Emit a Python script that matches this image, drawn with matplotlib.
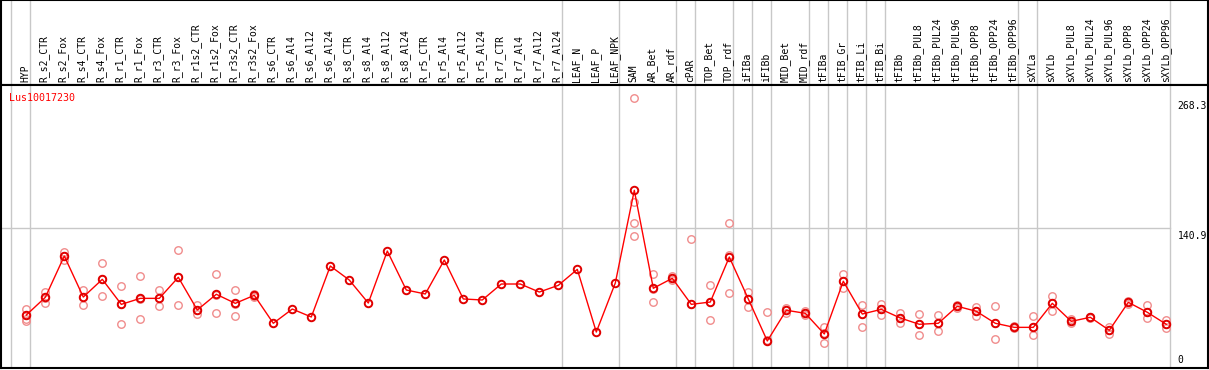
import matplotlib
matplotlib.use("Agg")
import matplotlib.pyplot as plt

# column labels, left to right
samples = ["HYP", "R_s2_CTR", "R_s2_Fox", "R_s4_CTR", "R_s4_Fox", "R_r1_CTR", "R_r1_Fox",
           "R_r3_CTR", "R_r3_Fox", "R_r1s2_CTR", "R_r1s2_Fox", "R_r3s2_CTR", "R_r3s2_Fox",
           "R_s6_CTR", "R_s6_Al4", "R_s6_Al12", "R_s6_Al24", "R_s8_CTR", "R_s8_Al4",
           "R_s8_Al12", "R_s8_Al24", "R_r5_CTR", "R_r5_Al4", "R_r5_Al12", "R_r5_Al24",
           "R_r7_CTR", "R_r7_Al4", "R_r7_Al12", "R_r7_Al24", "LEAF_N", "LEAF_P", "LEAF_NPK",
           "SAM", "AR_Bet", "AR_rdf", "cPAR", "TOP_Bet", "TOP_rdf", "iFIBa", "iFIBb",
           "MID_Bet", "MID_rdf", "tFIBa", "tFIB_Gr", "tFIB_Li", "tFIB_Bi", "tFIBb",
           "tFIBb_PUL8", "tFIBb_PUL24", "tFIBb_PUL96", "tFIBb_OPP8", "tFIBb_OPP24",
           "tFIBb_OPP96", "sXYLa", "sXYLb", "sXYLb_PUL8", "sXYLb_PUL24", "sXYLb_PUL96",
           "sXYLb_OPP8", "sXYLb_OPP24", "sXYLb_OPP96"]

# mean expression per sample
means = [55, 72.4, 113, 72.7, 90.1, 65.5, 71.4, 71.4, 92.1, 60, 75.4, 66.5, 74.4,
         46.9, 60.9, 53.1, 103.2, 89.4, 66.8, 117.9, 79.6, 75.7, 109.1, 70.8, 69.8,
         85.5, 85.5, 77.6, 84.2, 99.9, 38.3, 86.5,
         177.6, 81.3, 91.1, 65.5, 67.8, 112, 70.8, 29.5, 59.7, 56.7, 36.4, 88.2, 56.0,
         60.6, 52.1,
         45.9, 46.9, 63.6, 58.7, 46.9, 42.9, 42.9, 66.5, 48.8, 52.8, 40, 67.5, 57.7, 45.9]

# single replicates per sample
replicates = [
    [61, 55, 51, 49], [78, 72, 67], [117, 113, 109], [80, 73, 65], [106, 90, 74],
    [84, 66, 46], [93, 71, 51], [80, 72, 64], [119, 92, 65], [65, 60, 56],
    [95, 75, 57], [80, 66, 54], [76, 74, 73],
    [], [], [], [], [], [], [], [], [], [], [], [], [], [], [], [], [], [], [],
    [268.3, 166, 145, 133], [95, 81, 68], [93, 91, 89], [130, 66, 0], [85, 68, 50],
    [145, 114, 77], [78, 71, 63], [58, 30, 0], [62, 60, 57], [59, 57, 55],
    [43, 37, 28], [95, 88, 82], [65, 56, 43], [66, 61, 55], [57, 52, 47],
    [56, 46, 35], [55, 47, 39], [65, 64, 62], [63, 59, 54], [64, 47, 31],
    [44, 43, 42], [54, 43, 35], [74, 67, 59], [51, 49, 47], [53.5, 53, 52],
    [43.5, 40, 36], [66, 67.5, 69], [65, 58, 52], [50, 46, 42],
]

# last column index of each group (gray separators)
group_ends = [-1, 0, 28, 31, 34, 35, 37, 38, 39, 41, 42, 43, 44, 45, 52, 53, 60]

y_ticks = [268.3, 140.9]
gene = "Lus10017230"

W, H = 1209, 370
fig = plt.figure(figsize=(W / 100, H / 100), dpi=100)
mono = "DejaVu Sans Mono"
grid_c = "#c8c8c8"

xs = list(range(len(samples)))
xlim = ((1 - 26.3) / 19, (1208 - 26.3) / 19)

# header with the sample names
hdr = fig.add_axes([1 / W, (H - 85) / H, 1207 / W, 85 / H])
hdr.set_xlim(xlim)
hdr.set_ylim(0, 1)
hdr.set_xticks([])
hdr.set_yticks([])
for s in hdr.spines.values():
    s.set_linewidth(1.5)
for x, name in zip(xs, samples):
    hdr.text(x - 0.05, 0.03, name, rotation=90, ha="center", va="bottom",
             fontsize=7, family=mono)
for g in group_ends:
    hdr.axvline(g + 0.2, color=grid_c, lw=1.0)

# plot area
ax = fig.add_axes([1 / W, 2 / H, 1207 / W, 283 / H])
ax.set_xlim(xlim)
ax.set_ylim(2.95, 281.1)
ax.set_xticks([])
ax.set_yticks([])
for s in ax.spines.values():
    s.set_linewidth(1.5)

for g in group_ends:
    ax.axvline(g + 0.2, color=grid_c, lw=1.0, zorder=1)
ax.plot([xlim[0], group_ends[-1] + 0.2], [y_ticks[1], y_ticks[1]], color=grid_c,
        lw=1.0, zorder=1)

rx = [x for x, r in zip(xs, replicates) for _ in r]
ry = [v for r in replicates for v in r]
ax.plot(rx, ry, "o", ms=5.4, mfc="none", mec="#f08c8c", mew=1.0, zorder=2)

ax.plot(xs, means, "-", color="red", lw=1.0, zorder=3)
ax.plot(xs, means, "o", ms=5.4, mfc="none", mec="#e00000", mew=1.4, zorder=4)

ax.text(0.007, 0.972, gene, transform=ax.transAxes, color="red", fontsize=7.2,
        family=mono, ha="left", va="top")
for v in y_ticks:
    ax.text(60.6, v - 3, f"{v:g}", fontsize=7, family=mono, ha="left", va="top")
ax.text(60.6, 5.5, "0", fontsize=7, family=mono, ha="left", va="bottom")

fig.savefig("out.png", dpi=100)
